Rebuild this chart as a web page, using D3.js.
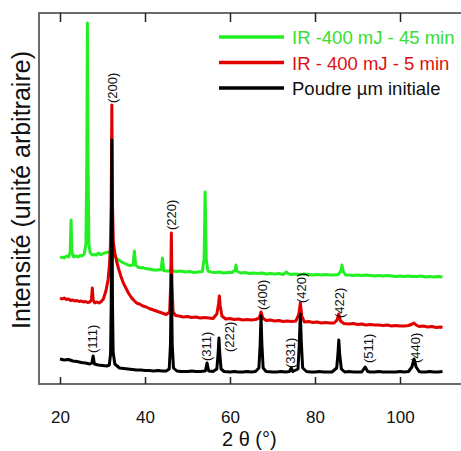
<!DOCTYPE html>
<html>
<head>
<meta charset="utf-8">
<script src="https://cdn.jsdelivr.net/npm/d3@7"></script>
<style>
  html, body { margin: 0; padding: 0; background: #fff; }
  svg { display: block; font-family: "Liberation Sans", Arial, sans-serif; }
</style>
</head>
<body>
<svg id="chart" width="461" height="451"></svg>
<script>
// ---- Data (2θ in degrees, intensity in arbitrary units) ----
const xTicks = [20, 40, 60, 80, 100];

const seriesNames = ["IR -400 mJ - 45 min", "IR - 400 mJ - 5 min", "Poudre µm initiale"];

const greenData = [[20,126],[20.5,127],[21,126],[21.5,128],[22,127],[22.4,132],[22.6,164],[22.8,132],[23.2,127],[23.7,128],[24.2,127],[24.7,128.5],[25.2,128],[25.7,130],[26.1,140],[26.3,220],[26.45,361],[26.6,220],[26.8,140],[27.1,131],[27.6,129],[28.1,129.5],[28.6,129],[29,131],[29.5,129.5],[30,130],[30.5,131],[31,131.5],[31.5,132],[32,133],[32.5,130],[33,127],[33.5,125],[34,123.5],[34.5,122],[35,121],[35.5,120],[36,119],[36.5,118.5],[37.2,119],[37.5,133],[37.8,119],[38.3,117],[39,116],[39.5,116.5],[40,115.5],[41,115],[42,114],[43,114],[43.8,114.5],[44.1,126],[44.4,113.5],[45,113],[45.8,113],[46.2,116],[46.6,113],[47.5,112.5],[48.5,113],[49.5,112],[50.5,112.5],[51.5,111.5],[52.5,112],[53.5,112.5],[53.9,125],[54.15,192],[54.4,125],[54.8,113],[55.5,112],[56.5,111.5],[57.5,112],[58.5,111],[59.5,111.5],[60.5,111.5],[61.2,114],[61.4,119],[61.6,113],[62.5,111],[63.5,111.5],[64.5,110.5],[65.5,111],[66.5,110.5],[67.5,111],[68.5,110],[69.5,110.5],[70.5,110],[71.5,110.5],[72.5,109.5],[73.3,112],[73.8,110],[74.5,109.5],[75.5,110],[76.5,109.5],[77.5,110],[78.5,109.5],[79.5,109],[80.5,109.5],[81.5,109],[82.5,109.5],[83.5,109],[84.5,109],[85.5,109.5],[86.1,113],[86.35,119],[86.6,113],[87.2,109],[88,109],[89,108.5],[90,109],[91,108.5],[92,109],[93,108.5],[94,108],[95,108.5],[96,108],[97,108.5],[98,108],[99,107.5],[100,108],[101,107.5],[102,108],[103,107.5],[104,107.5],[105,108],[106,107],[107,107.5],[108,107],[109,107.5],[110,107]];

const redData = [[20,86],[20.5,85],[21,86],[21.5,84.5],[22,85],[22.5,83.5],[23,84],[23.5,83],[24,83.5],[24.5,82.5],[25,83],[25.5,82],[26,82.5],[26.5,81.5],[27,82],[27.4,84],[27.6,96],[27.8,84],[28.2,81],[28.7,82],[29.2,81],[29.7,82.5],[30.2,85],[30.8,93],[31.3,104],[31.6,117],[31.85,137],[32.05,180],[32.2,279],[32.35,180],[32.55,142],[32.9,131],[33.3,123],[33.8,115],[34.3,108],[34.9,101],[35.5,96],[36.1,91],[36.7,87],[37.3,84],[38,81],[38.7,80],[39.5,78],[40.3,77],[41,75.5],[42,74],[43,72.5],[44,71],[45,69.5],[45.8,72],[46.05,100],[46.2,151],[46.35,100],[46.6,72],[47.2,68.5],[48,68],[49,67],[50,67.5],[51,66.5],[52,67],[53,66],[54,66.5],[55,66],[56,65.5],[56.9,70],[57.3,80],[57.5,88],[57.7,78],[58.1,68],[59,65],[60,65.5],[61,64.5],[62,65],[63,64],[64,64.5],[65,64],[66,64.5],[66.9,66],[67.3,72],[67.7,66],[68.5,63.5],[69.5,64],[70.5,63],[71.5,63.5],[72.5,62.5],[73.5,63],[74.5,62.5],[75.5,63],[76.2,70],[76.55,81],[76.9,68],[77.5,62],[78.5,62.5],[79.5,61.5],[80.5,62],[81.5,61],[82.5,61.5],[83.5,61],[84.5,61],[85.2,64],[85.6,70],[86,63],[86.8,60.5],[88,60],[89,60.5],[90,59.5],[91,60],[92,59],[93,59.5],[94,59],[95,59],[96,58.5],[97,59],[98,58],[99,58.5],[100,58],[101,58],[102,58.5],[102.9,60],[103.3,61],[103.8,59],[104.5,57.5],[105.5,58],[106.5,57],[107.5,57.5],[108.5,56.5],[109.5,57],[110,56.5]];

const blackData = [[20,25],[21,24],[22,24.5],[23,23],[24,22.5],[25,21.5],[26,21],[27,20],[27.5,21],[27.8,28],[28.1,20],[29,19],[30,18.5],[31,18],[31.6,19],[31.9,30],[32.05,80],[32.2,244],[32.35,80],[32.5,32],[32.9,20],[34,16],[35,15.5],[36,15],[37,14.5],[38,14],[39,14],[40,13.5],[41,13.5],[42,13],[43,13.5],[44,13],[45,13],[45.7,15],[46.0,40],[46.2,109],[46.4,40],[46.7,16],[47.5,13],[48.5,12.5],[50,12.5],[51,13],[52,12.5],[53,12.5],[54.2,13],[54.6,21],[55,13],[56,12.5],[56.9,15],[57.2,30],[57.4,46],[57.6,30],[57.9,15],[58.6,12.5],[60,12],[61,12.5],[62,12],[63,12],[64,12.5],[65,12],[66,12.5],[66.8,16],[67.1,40],[67.3,68],[67.5,40],[67.8,16],[68.5,12.5],[70,12],[71,12],[72,12.5],[73,12],[74,12.5],[74.4,16],[74.8,12.5],[76,15],[76.3,40],[76.55,70],[76.8,40],[77.1,16],[78,12.5],[79,12],[80,12],[81,12.5],[82,12],[83,12],[84,12],[85.1,16],[85.4,30],[85.6,44],[85.8,30],[86.2,15],[87,12],[88,12.5],[89,12],[90,12],[91,12],[91.8,17],[92.4,12.5],[93,12],[94,12],[95,12.5],[96,12],[97,12],[98,12],[99,12],[100,12.5],[101,12],[102,12.5],[102.8,17],[103.3,25],[103.8,17],[104.5,12.5],[105,12],[106,12],[107,12.5],[108,12],[109,12],[110,12.5]];

// Miller index labels: text, 2θ position, intensity level of the label's lower end
const peakLabels = ["(111)", "(200)", "(220)", "(311)", "(222)", "(400)", "(331)", "(420)", "(422)", "(511)", "(440)"];
const peakPos    = [27.7, 32.4, 46.2, 54.5, 59.9, 67.6, 74.2, 76.8, 85.8, 92.6, 103.6];
const peakLevel  = [31, 281, 154, 23, 32, 74, 16, 81, 66, 21, 21];

// ---- Layout ----
const svg = d3.select("#chart");
const frame = { left: 39, top: 13, bottom: 384 };

const x = d3.scaleLinear().domain([15, 115]).range([38.75, 463.75]);
const y = d3.scaleLinear().domain([0, 371]).range([frame.bottom, frame.top]);

// Frame
svg.append("rect")
  .attr("x", frame.left).attr("y", frame.top)
  .attr("width", 440).attr("height", frame.bottom - frame.top)
  .attr("fill", "none").attr("stroke", "#6c6c6c").attr("stroke-width", 2);

// Bottom axis (ticks inside)
const bottomAxis = svg.append("g")
  .attr("transform", `translate(0,${frame.bottom})`)
  .call(d3.axisBottom(x).tickValues(xTicks).tickSize(-7).tickPadding(27).tickFormat(d3.format("d")));
bottomAxis.select(".domain").remove();
bottomAxis.selectAll(".tick line").attr("stroke", "#222").attr("stroke-width", 1.5);
bottomAxis.selectAll(".tick text")
  .attr("font-size", 17).attr("fill", "#111")
  .attr("font-family", "Liberation Sans, Arial, sans-serif");

// Top axis (ticks inside, no labels)
const topAxis = svg.append("g")
  .attr("transform", `translate(0,${frame.top})`)
  .call(d3.axisTop(x).tickValues(xTicks).tickSize(-9).tickFormat(""));
topAxis.select(".domain").remove();
topAxis.selectAll(".tick line").attr("stroke", "#222").attr("stroke-width", 1.5);

// Curves
const line = d3.line().x(d => x(d[0])).y(d => y(d[1]));
const colors = ["#22f022", "#e00000", "#000000"];
const datasets = [greenData, redData, blackData];
datasets.forEach((data, i) => {
  svg.append("path")
    .datum(data)
    .attr("d", line)
    .attr("fill", "none")
    .attr("stroke", colors[i])
    .attr("stroke-width", 3)
    .attr("stroke-linejoin", "round");
});

// Peak labels (rotated)
peakLabels.forEach((t, i) => {
  svg.append("text")
    .attr("transform", `translate(${x(peakPos[i])},${y(peakLevel[i])}) rotate(-90)`)
    .attr("dy", "0.35em")
    .attr("font-size", 13)
    .attr("fill", "#111")
    .text(t);
});

// Legend
const legendColorsText = ["#33e033", "#dd1010", "#111111"];
seriesNames.forEach((name, i) => {
  const ly = 37 + i * 25.5;
  svg.append("line")
    .attr("x1", 219).attr("x2", 284)
    .attr("y1", ly).attr("y2", ly)
    .attr("stroke", colors[i]).attr("stroke-width", 3.5);
  svg.append("text")
    .attr("x", 292).attr("y", ly + 7)
    .attr("font-size", 18.5)
    .attr("fill", legendColorsText[i])
    .text(name);
});

// Axis titles
svg.append("text")
  .attr("x", 222).attr("y", 446)
  .attr("font-size", 20).attr("fill", "#111")
  .text("2 θ (°)");

svg.append("text")
  .attr("transform", "translate(30,190) rotate(-90)")
  .attr("text-anchor", "middle")
  .attr("font-size", 25).attr("fill", "#111")
  .text("Intensité (unité arbitraire)");
</script>
</body>
</html>
